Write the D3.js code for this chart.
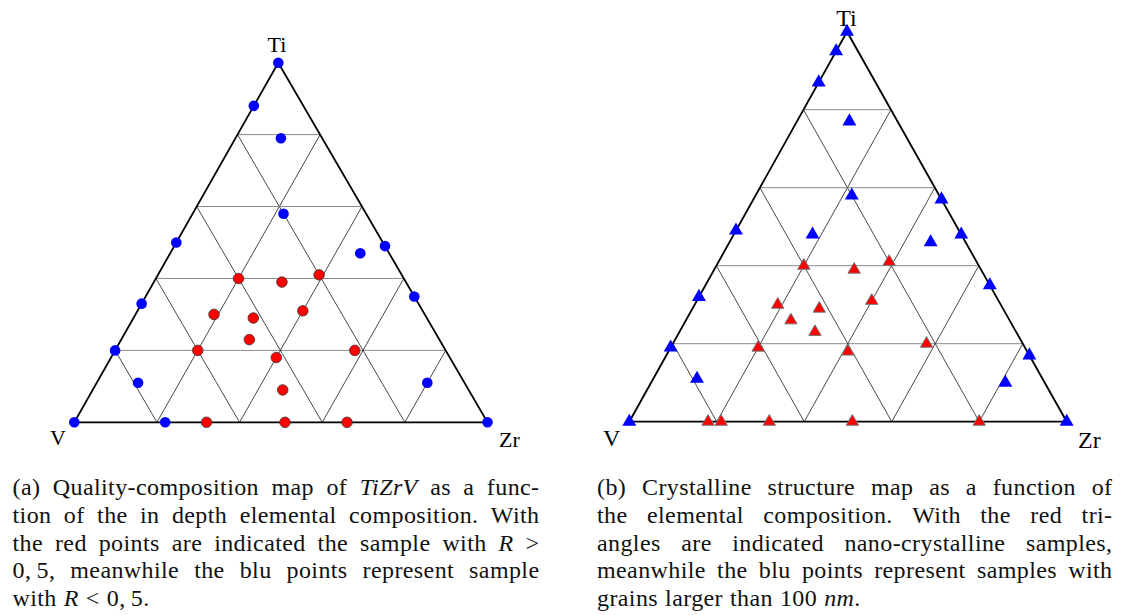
<!DOCTYPE html>
<html>
<head>
<meta charset="utf-8">
<script src="https://cdn.jsdelivr.net/npm/d3@7"></script>
<style>
  html, body { margin: 0; padding: 0; background: #fff; }
  svg { display: block; }
</style>
</head>
<body>
<script>
// compositions as [Ti, V, Zr] in at.%
const qualityLow = [
  [100, 0, 0], [88, 12, 0], [79, 10, 11], [58, 20, 22], [50, 50, 0],
  [47, 7, 46], [49, 0, 51], [33, 67, 0], [35, 0, 65], [20, 80, 0],
  [11, 79, 10], [11, 9, 80], [0, 100, 0], [0, 78, 22], [0, 0, 100]
];
const qualityHigh = [
  [40, 40, 20], [41, 20, 39], [39, 30, 31], [30, 51, 19], [29, 42, 29],
  [31, 29, 40], [23, 46, 31], [20, 60, 20], [18, 42, 40], [20, 22, 58],
  [9, 45, 46], [0, 68, 32], [0, 49, 51], [0, 34, 66]
];
const grainsLarge = [
  [100, 0, 0], [95, 5, 0], [87, 13, 0], [77, 11, 12], [58, 20, 22],
  [57, 0, 43], [49, 51, 0], [48, 34, 18], [48, 0, 52], [46, 8, 46],
  [32, 68, 0], [35, 0, 65], [19, 81, 0], [17, 0, 83], [11, 79, 10],
  [10, 9, 81], [0, 100, 0], [0, 0, 100]
];
const nanoCrystalline = [
  [40, 40, 20], [39, 29, 32], [41, 20, 39], [30, 51, 19], [29, 42, 29],
  [31, 29, 40], [26, 50, 24], [23, 46, 31], [19, 61, 20], [18, 41, 41],
  [20, 22, 58], [0, 82, 18], [0, 79, 21], [0, 68, 32], [0, 49, 51], [0, 20, 80]
];
const gridSteps = [20, 40, 60, 80];
const cornerLabels = ["Ti", "V", "Zr"];

const captionA = [
  "(a) Quality-composition map of *TiZrV* as a func-",
  "tion of the in depth elemental composition. With",
  "the red points are indicated the sample with *R* >",
  "0,\u20095, meanwhile the blu points represent sample",
  "with *R* < 0,\u20095."
];
const captionB = [
  "(b) Crystalline structure map as a function of",
  "the elemental composition. With the red tri-",
  "angles are indicated nano-crystalline samples,",
  "meanwhile the blu points represent samples with",
  "grains larger than 100 *nm*."
];

const W = 1124, H = 615;
const svg = d3.select("body").append("svg")
  .attr("width", W).attr("height", H);

function ternary(cfg) {
  const g = svg.append("g");
  // x runs along the base (Zr share), y with the Ti share
  const x = d3.scaleLinear().domain([0, 100]).range([cfg.x0, cfg.x1]);
  const y = d3.scaleLinear().domain([0, 100]).range([cfg.base, cfg.top]);
  const k = (cfg.apex - cfg.x0) / (cfg.x1 - cfg.x0);
  const px = d => x(d[2] + d[0] * k);
  const py = d => y(d[0]);
  const line = d3.line().x(px).y(py);

  gridSteps.forEach(f => {
    g.append("path").attr("d", line([[f, 100 - f, 0], [f, 0, 100 - f]]))
      .attr("stroke", "#8a8a8a").attr("stroke-width", 1).attr("fill", "none");
    g.append("path").attr("d", line([[0, 100 - f, f], [100 - f, 0, f]]))
      .attr("stroke", "#333").attr("stroke-width", 0.9).attr("fill", "none");
    g.append("path").attr("d", line([[0, f, 100 - f], [100 - f, f, 0]]))
      .attr("stroke", "#333").attr("stroke-width", 0.9).attr("fill", "none");
  });
  g.append("path")
    .attr("d", line([[100, 0, 0], [0, 100, 0], [0, 0, 100]]) + "Z")
    .attr("fill", "none").attr("stroke", "#000").attr("stroke-width", 1.8)
    .attr("stroke-linejoin", "miter");

  const lab = g.append("g").attr("font-family", "'Liberation Serif', serif")
    .attr("font-size", cfg.labelSize).attr("fill", "#000");
  lab.append("text").attr("x", cfg.tiLab[0]).attr("y", cfg.tiLab[1])
    .attr("text-anchor", "middle").text(cornerLabels[0]);
  lab.append("text").attr("x", cfg.vLab[0]).attr("y", cfg.vLab[1]).text(cornerLabels[1]);
  lab.append("text").attr("x", cfg.zrLab[0]).attr("y", cfg.zrLab[1]).text(cornerLabels[2]);

  return { g, px, py };
}

const left = ternary({
  x0: 74.3, x1: 487.5, apex: 278.3, base: 422.3, top: 62.7,
  labelSize: 22, tiLab: [277, 52], vLab: [50, 445], zrLab: [499, 447]
});
left.g.selectAll("circle.low").data(qualityLow).join("circle")
  .attr("class", "low")
  .attr("cx", left.px).attr("cy", left.py).attr("r", 5.3)
  .attr("fill", "#0000ff");
left.g.selectAll("circle.high").data(qualityHigh).join("circle")
  .attr("class", "high")
  .attr("cx", left.px).attr("cy", left.py).attr("r", 5.3)
  .attr("fill", "#ff0000").attr("stroke", "#3a3a3a").attr("stroke-width", 0.8);

const right = ternary({
  x0: 629.3, x1: 1066.7, apex: 847, base: 421.7, top: 31.7,
  labelSize: 24, tiLab: [846.5, 26], vLab: [603, 446], zrLab: [1078, 448]
});
right.g.selectAll("path.large").data(grainsLarge).join("path")
  .attr("class", "large")
  .attr("transform", d => `translate(${right.px(d)},${right.py(d)})`)
  .attr("d", d3.symbol(d3.symbolTriangle, 84))
  .attr("fill", "#0000ff");
right.g.selectAll("path.nano").data(nanoCrystalline).join("path")
  .attr("class", "nano")
  .attr("transform", d => `translate(${right.px(d)},${right.py(d)})`)
  .attr("d", d3.symbol(d3.symbolTriangle, 66))
  .attr("fill", "#ff0000").attr("stroke", "#777").attr("stroke-width", 1);

// justified caption, *...* marks math italic
function caption(lines, x0, x1, y0, lh) {
  const g = svg.append("g")
    .attr("font-family", "'Liberation Serif', serif")
    .attr("font-size", 24).attr("letter-spacing", 0.4).attr("fill", "#111");
  lines.forEach((ln, i) => {
    const words = ln.split(" ");
    const nodes = words.map(w => {
      const t = g.append("text").attr("y", y0 + i * lh);
      w.split("*").forEach((s, j) => {
        if (s) t.append("tspan").attr("font-style", j % 2 ? "italic" : null).text(s);
      });
      return t;
    });
    const widths = nodes.map(n => n.node().getComputedTextLength());
    const last = i === lines.length - 1;
    const gap = last ? 7 : (x1 - x0 - d3.sum(widths)) / (words.length - 1);
    let x = x0;
    nodes.forEach((n, j) => { n.attr("x", x); x += widths[j] + gap; });
  });
}
caption(captionA, 12.5, 539.5, 495, 27.8);
caption(captionB, 597, 1112.5, 495, 27.8);
</script>
</body>
</html>
